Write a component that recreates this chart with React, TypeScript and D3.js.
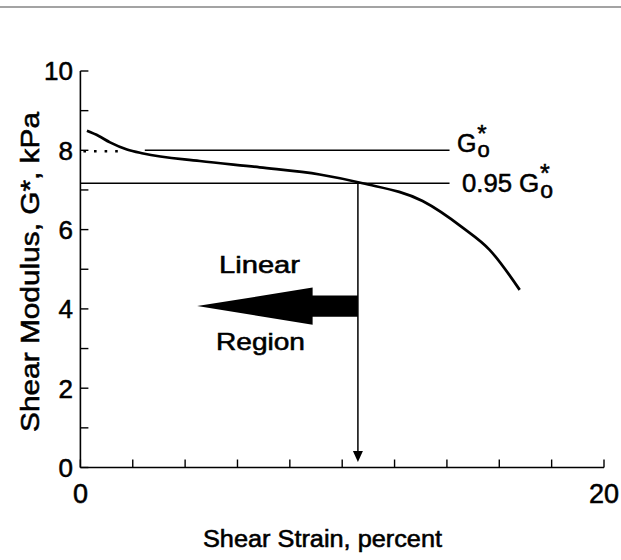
import React from "react";
import * as d3 from "d3";

// Data
const strain = [0.25, 0.7, 1.13, 1.78, 2.4, 4.56, 6.85, 9.14, 10.78, 13.07, 14.6, 15.63, 16.78];
const modulus = [8.49, 8.36, 8.2, 8.02, 7.92, 7.73, 7.57, 7.39, 7.17, 6.72, 6.05, 5.49, 4.48];

const xTicks = [0, 2, 4, 6, 8, 10, 12, 14, 16, 18, 20];
const xTickLabels = [0, 20];
const yTicks = [0, 1, 2, 3, 4, 5, 6, 7, 8, 9, 10];
const yTickLabels = [0, 2, 4, 6, 8, 10];

const G0 = 8.0;
const G95 = 7.17;
const g0LineStart = 2.46;
const refLineEnd = 14.1;
const dottedEnd = 1.7;
const limitStrain = 10.6;
const limitTip = 0.14;

// Big "Linear Region" arrow (strain, modulus)
const bigArrowTip: [number, number] = [4.46, 4.07];
const bigArrowHeadBase = 8.87;
const bigArrowHeadHalf = 0.47;
const bigArrowShaftHalf = 0.265;

const FONT = "'Liberation Sans', Arial, Helvetica, sans-serif";
const T = { stroke: "#000", strokeWidth: 0.55 } as const;

export default function App() {
  const W = 621;
  const H = 560;
  const x = d3.scaleLinear().domain([0, 20]).range([80.4, 604]);
  const y = d3.scaleLinear().domain([0, 10]).range([467.5, 71]);

  const pts: [number, number][] = strain.map((s, i) => [s, modulus[i]]);
  const line = d3
    .line<[number, number]>()
    .x((d) => x(d[0]))
    .y((d) => y(d[1]))
    .curve(d3.curveMonotoneX);

  const [tx, ty] = bigArrowTip;
  const arrowPts: [number, number][] = [
    [tx, ty],
    [bigArrowHeadBase, ty + bigArrowHeadHalf],
    [bigArrowHeadBase, ty + bigArrowShaftHalf],
    [limitStrain, ty + bigArrowShaftHalf],
    [limitStrain, ty - bigArrowShaftHalf],
    [bigArrowHeadBase, ty - bigArrowShaftHalf],
    [bigArrowHeadBase, ty - bigArrowHeadHalf],
  ];
  const arrowPath =
    "M" + arrowPts.map(([a, b]) => `${x(a)},${y(b)}`).join("L") + "Z";

  const vx = x(limitStrain);
  const vTip = y(limitTip);

  return (
    <svg
      width={W}
      height={H}
      viewBox={`0 0 ${W} ${H}`}
      style={{ position: "absolute", left: 0, top: 0, background: "#fff" }}
      fontFamily={FONT}
    >
      <rect x={0} y={0} width={W} height={H} fill="#fff" />
      {/* top gray rule */}
      <rect x={0} y={6} width={W} height={2} fill="#a3a3a3" />

      {/* axes */}
      <line x1={x(0)} x2={x(20)} y1={y(0)} y2={y(0)} stroke="#000" strokeWidth={1.6} />
      <line x1={x(0)} x2={x(0)} y1={y(0)} y2={y(10)} stroke="#000" strokeWidth={1.6} />
      {xTicks.map((t) => (
        <line key={"xt" + t} x1={x(t)} x2={x(t)} y1={y(0)} y2={y(0) - 8} stroke="#000" strokeWidth={1.4} />
      ))}
      {yTicks.map((t) => (
        <line key={"yt" + t} x1={x(0)} x2={x(0) + 8} y1={y(t)} y2={y(t)} stroke="#000" strokeWidth={1.4} />
      ))}
      {yTickLabels.map((t) => (
        <text key={"yl" + t} x={73} y={y(t)} dy="0.36em" textAnchor="end" fontSize={26} {...T}>
          {t}
        </text>
      ))}
      {xTickLabels.map((t) => (
        <text key={"xl" + t} x={x(t)} y={503} textAnchor="middle" fontSize={27} {...T}>
          {t}
        </text>
      ))}

      {/* axis titles */}
      <text x={203} y={547} fontSize={23} textLength={239} lengthAdjust="spacingAndGlyphs" {...T}>
        Shear Strain, percent
      </text>
      <text
        transform={`translate(39,432) rotate(-90)`}
        x={0}
        y={0}
        fontSize={26}
        textLength={320}
        lengthAdjust="spacingAndGlyphs"
        {...T}
      >
        Shear Modulus, G*, kPa
      </text>

      {/* reference lines */}
      <line x1={x(g0LineStart)} x2={x(refLineEnd)} y1={y(G0)} y2={y(G0)} stroke="#000" strokeWidth={1.5} />
      <line x1={x(0)} x2={x(refLineEnd)} y1={y(G95)} y2={y(G95)} stroke="#000" strokeWidth={1.5} />
      <line
        x1={x(0) + 3}
        x2={x(dottedEnd)}
        y1={y(G0) + 1}
        y2={y(G0) + 1}
        stroke="#000"
        strokeWidth={2.6}
        strokeDasharray="2.6 8"
      />

      {/* data curve */}
      <path d={line(pts) || ""} fill="none" stroke="#000" strokeWidth={2.7} strokeLinejoin="round" />

      {/* vertical arrow at limit strain */}
      <line x1={vx} x2={vx} y1={y(G95)} y2={vTip - 9} stroke="#000" strokeWidth={1.5} />
      <path d={`M${vx - 5},${vTip - 11}L${vx + 5},${vTip - 11}L${vx},${vTip}Z`} fill="#000" />

      {/* big arrow */}
      <path d={arrowPath} fill="#000" />
      <text x={219} y={273} fontSize={24} textLength={81} lengthAdjust="spacingAndGlyphs" {...T}>
        Linear
      </text>
      <text x={216} y={350} fontSize={24} textLength={89} lengthAdjust="spacingAndGlyphs" {...T}>
        Region
      </text>

      {/* G0* labels */}
      <text x={457} y={152} fontSize={25} {...T}>
        G
        <tspan dx={1} dy={5} fontSize={22}>o</tspan>
        <tspan dx={-12.5} dy={-15} fontSize={24}>*</tspan>
      </text>

      <text x={462} y={192} fontSize={26} {...T}>
        <tspan textLength={50} lengthAdjust="spacingAndGlyphs">0.95</tspan>
        <tspan dx={7}>G</tspan>
        <tspan dx={1} dy={6} fontSize={23}>o</tspan>
        <tspan dx={-13} dy={-16} fontSize={25}>*</tspan>
      </text>
    </svg>
  );
}
